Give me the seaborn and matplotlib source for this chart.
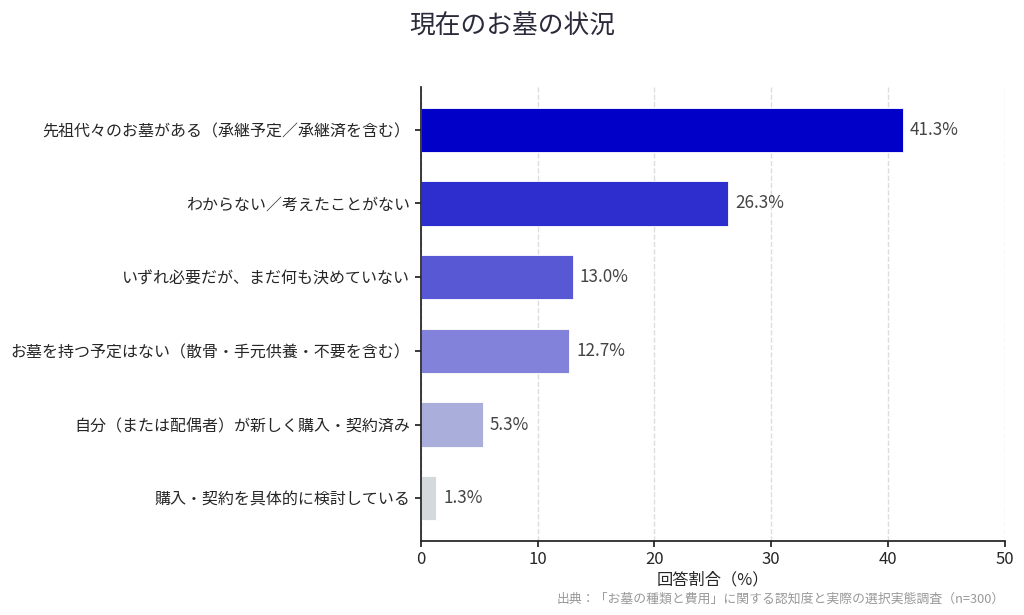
import matplotlib
matplotlib.use("Agg")
import matplotlib.pyplot as plt
import seaborn as sns
import pandas as pd

categories = [
    "先祖代々のお墓がある（承継予定／承継済を含む）",
    "わからない／考えたことがない",
    "いずれ必要だが、まだ何も決めていない",
    "お墓を持つ予定はない（散骨・手元供養・不要を含む）",
    "自分（または配偶者）が新しく購入・契約済み",
    "購入・契約を具体的に検討している",
]
values = [41.3, 26.3, 13.0, 12.7, 5.3, 1.3]
colors = ["#0000c8", "#2e2ecf", "#5858d5", "#8282da", "#aaaedb", "#d4d9db"]

sns.set_theme(style="white")
plt.rcParams["font.family"] = ["Noto Sans CJK JP", "DejaVu Sans"]

df = pd.DataFrame({"category": categories, "value": values})

fig, ax = plt.subplots(figsize=(10.24, 6.15), dpi=100)
sns.barplot(data=df, y="category", x="value", hue="category", palette=colors,
            legend=False, width=0.6, ax=ax, saturation=1,
            edgecolor="white", linewidth=0.6)

for i, v in enumerate(values):
    ax.text(v + 0.6, i, f"{v:.1f}%", va="center", ha="left", fontsize=12.3, color="#444444")

ax.set_xlim(0, 50)
ax.set_ylim(5.58, -0.58)
ax.set_xticks([0, 10, 20, 30, 40, 50])
ax.xaxis.grid(True, linestyle="--", color="#dddddd", linewidth=1)
ax.set_axisbelow(True)
sns.despine(ax=ax)
ax.spines["left"].set_color("#222222")
ax.spines["bottom"].set_color("#222222")
ax.tick_params(axis="both", which="both", length=4, color="#222222", labelsize=12, bottom=True, left=True)
ax.tick_params(axis="y", labelsize=11.5)
ax.set_ylabel("")
ax.set_xlabel("回答割合（%）", fontsize=11.7, labelpad=2)
fig.suptitle("現在のお墓の状況", fontsize=18.5, color="#2a2a3a", y=0.978)
fig.text(0.981, 0.015, "出典：「お墓の種類と費用」に関する認知度と実際の選択実態調査（n=300）",
         ha="right", va="bottom", fontsize=9.25, color="#999999")

fig.subplots_adjust(left=0.411, right=0.981, top=0.8585, bottom=0.1203)
fig.savefig("out.png", dpi=100)
